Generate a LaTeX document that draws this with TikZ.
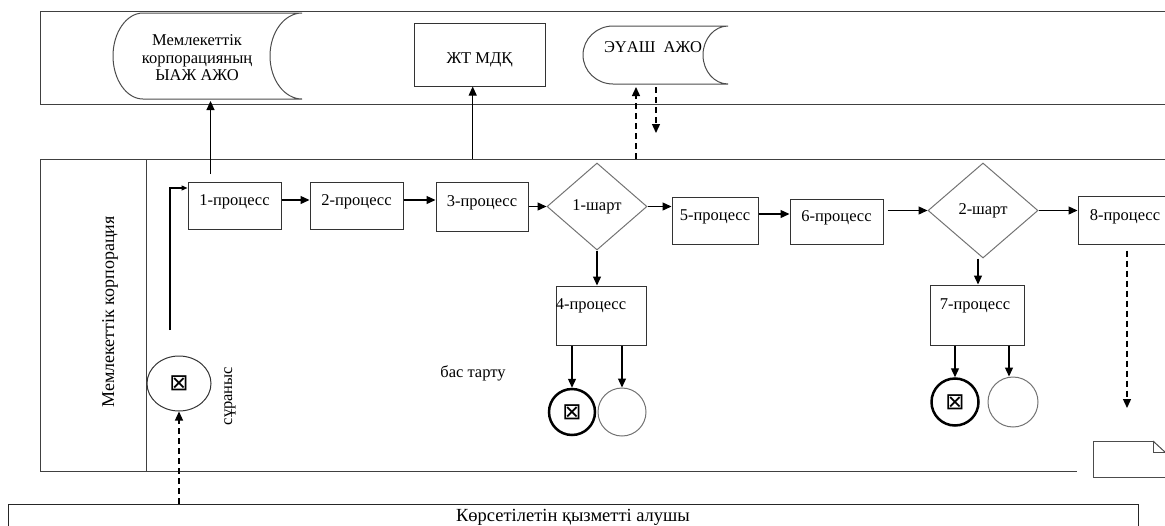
\documentclass[tikz,border=0pt]{standalone}
\usepackage{fontspec}
\setmainfont{Liberation Serif}
\newfontfamily\symfont{DejaVu Sans}
\usetikzlibrary{arrows.meta,shapes.geometric,calc}
\begin{document}
\begin{tikzpicture}[x=1pt,y=-1pt,
  font=\fontsize{16.5}{17.5}\selectfont,
  lane/.style={draw=black!75,line width=1pt},
  proc/.style={draw=black!80,line width=1pt,rectangle,inner sep=0pt,text height=0pt,text depth=0pt},
  procb/.style={draw=black!80,line width=1pt,rectangle,inner sep=0pt},
  cond/.style={draw=black!55,line width=1pt,diamond,inner sep=0pt},
  store/.style={draw=black!70,line width=1pt},
  arr/.style={line width=1.3pt,-{Triangle[length=9pt,width=8pt]}},
  darr/.style={line width=1.3pt,dash pattern=on 6pt off 4pt,-{Triangle[length=9pt,width=8pt]}},
  endx/.style={circle,draw=black,line width=2.5pt,inner sep=0pt,font=\symfont\fontsize{23}{23}\selectfont},
  endo/.style={circle,draw=black!55,line width=1pt,inner sep=0pt},
  vlabel/.style={rotate=90},
]
\useasboundingbox (0,0) rectangle (1165,525);
\clip (0,0) rectangle (1165,525);

% lanes
\draw[lane] (1170,11) -- (40,11) -- (40,104) -- (1170,104);
\draw[lane] (1170,159) -- (40,159) -- (40,471) -- (1077,471);
\draw[lane] (146,159) -- (146,471);
\node[vlabel,font=\fontsize{18}{20}\selectfont] (lbl) at (110,312) {Мемлекеттік корпорация};
\node[draw=black!85,line width=1pt,minimum width=1130pt,minimum height=26pt,inner sep=0pt,
      font=\fontsize{18.5}{20}\selectfont] (client) at (573,517) {Көрсетілетін қызметті алушы};

% top lane: stored data 1
\draw[store] (143,13) -- (302,13) .. controls (284.4,13) and (270,32.4) .. (270,56)
  .. controls (270,79.6) and (284.4,99) .. (302,99) -- (143,99)
  .. controls (126.5,99) and (113,79.6) .. (113,56)
  .. controls (113,32.4) and (126.5,13) .. (143,13) -- cycle;
\node[align=center] (yaj) at (197,58) {Мемлекеттік\\корпорацияның\\ЫАЖ АЖО};
\coordinate (yajb) at (210.5,101);
\coordinate (u1) at (210.5,174);

% ЖТ МДҚ
\node[procb,minimum width=131pt,minimum height=63pt,
      label={[yshift=-5pt]center:ЖТ МДҚ}] (zht) at (479.5,54.5) {};
\coordinate (u2) at (472.7,159);

% stored data 2
\draw[store] (613,26) -- (728,26) .. controls (714.25,26) and (703,39) .. (703,55)
  .. controls (703,71) and (714.25,84) .. (728,84) -- (613,84)
  .. controls (596.5,84) and (583,71) .. (583,55)
  .. controls (583,39) and (596.5,26) .. (613,26) -- cycle;
\node (euash) at (653,47) {ЭҮАШ\ \ АЖО};
\coordinate (eu1a) at (636,159);
\coordinate (eu1b) at (636,87);
\coordinate (eu2a) at (656,87);
\coordinate (eu2b) at (656,133);

% processes
\node[proc,minimum width=93pt,minimum height=47pt] (p1) at (234.5,205.5) {1-процесс};
\node[proc,minimum width=93pt,minimum height=47pt] (p2) at (356.5,205.5) {2-процесс};
\node[proc,minimum width=92pt,minimum height=49pt] (p3) at (482,206.5) {3-процесс};
\node[cond,minimum width=100pt,minimum height=87pt] (d1) at (597,206.5) {1-шарт};
\node[proc,minimum width=86pt,minimum height=47pt] (p5) at (715,220.5) {5-процесс};
\node[procb,minimum width=90pt,minimum height=59pt,
      label={[xshift=-10pt,yshift=10pt]center:4-процесс}] (p4) at (601,315.5) {};
\node[proc,minimum width=93pt,minimum height=45pt] (p6) at (836.5,221.5) {6-процесс};
\node[cond,minimum width=110pt,minimum height=95pt] (d2) at (983,210.5) {2-шарт};
\node[procb,minimum width=94pt,minimum height=60pt,
      label={[xshift=-2pt,yshift=9pt]center:7-процесс}] (p7) at (977,315) {};
\node[proc,minimum width=94pt,minimum height=48pt] (p8) at (1125,220) {8-процесс};

% start
\node[ellipse,draw=black!80,line width=1pt,minimum width=64pt,minimum height=55pt,inner sep=0pt,
      font=\symfont\fontsize{23}{23}\selectfont] (start) at (179,383.5) {⊠};
\node[vlabel] (req) at (230,396) {сұраныс};
\coordinate (s0) at (170,330);

\node (reject) at (473,373) {бас тарту};

% end events
\node[endx,minimum size=46pt] (e4x) at (572,412) {⊠};
\node[endo,minimum size=48pt] (e4o) at (622,412) {};
\node[endx,minimum size=47pt] (e7x) at (955,402) {⊠};
\node[endo,minimum size=50pt] (e7o) at (1013,402) {};

% document
\coordinate (docin) at (1127,408);
\draw[store] (1153,441) -- (1093,441) -- (1093,477) -- (1170,477);
\draw[store] (1153,441) -- (1153,452) -- (1170,452);
\draw[store] (1153,441) -- (1166,453);

% connectors
\draw[line width=1pt,-{Triangle[length=9pt,width=8pt]}] (u1) -- (yajb);
\draw[line width=1pt,-{Triangle[length=9pt,width=8pt]}] (u2) -- (u2 |- zht.south);
\draw[darr] (eu1a) -- (eu1b);
\draw[darr] (eu2a) -- (eu2b);
\draw[line width=1.3pt,-{Triangle[length=6pt,width=5pt]}] (s0) |- ([yshift=17.5pt]p1.west);
\draw[darr] (start.south |- client.north) -- (start.south);
\draw[arr] ([yshift=5.5pt]p1.east) -- ([yshift=5.5pt]p1.east -| p2.west);
\draw[arr] ([yshift=5.5pt]p2.east) -- ([yshift=5.5pt]p2.east -| p3.west);
\draw[arr] (p3.east |- d1.west) -- (d1.west);
\draw[arr] (d1.east) -- (d1.east -| p5.west);
\draw[arr] ([yshift=6.5pt]p5.east) -- ([yshift=6.5pt]p5.east -| p6.west);
\draw[arr] ([xshift=4pt]p6.east |- d2.west) -- (d2.west);
\draw[arr] (d2.east) -- (d2.east -| p8.west);
\draw[arr] (d1.south) -- (d1.south |- p4.north);
\draw[arr] ([xshift=-5pt]d2.south) -- ([xshift=-5pt]d2.south |- p7.north);
\draw[darr] (p8.south -| docin) ++(0,6) -- (docin);
\draw[arr] (e4x |- p4.south) -- (e4x.north);
\draw[arr] (e4o |- p4.south) -- (e4o.north);
\draw[arr] (e7x |- p7.south) -- (e7x.north);
\draw[arr] ([xshift=-4pt]e7o |- p7.south) -- ([xshift=-4pt]e7o.north);
\end{tikzpicture}
\end{document}
